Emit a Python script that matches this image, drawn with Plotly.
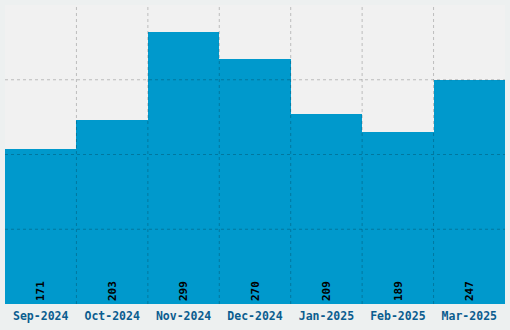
import plotly.graph_objects as go

months = ["Sep-2024", "Oct-2024", "Nov-2024", "Dec-2024", "Jan-2025", "Feb-2025", "Mar-2025"]
counts = [171, 203, 299, 270, 209, 189, 247]

y_max = 329
grid_color = "rgba(0,0,0,0.22)"

fig = go.Figure(go.Bar(
    x=months, y=counts,
    marker=dict(color="#0099cc", line=dict(width=0)),
    text=[str(c) for c in counts],
    textposition="inside", insidetextanchor="start", textangle=-90,
    textfont=dict(family="DejaVu Sans Mono", size=11, color="#000000", weight="bold"),
    hoverinfo="skip",
))

shapes = []
for k in range(1, 4):
    shapes.append(dict(type="line", xref="paper", yref="y", x0=0, x1=1,
                       y0=y_max * k / 4, y1=y_max * k / 4, layer="above",
                       line=dict(color=grid_color, width=1, dash="3px,3px")))
for i in range(1, len(months)):
    shapes.append(dict(type="line", xref="x", yref="paper", x0=i - 0.5, x1=i - 0.5,
                       y0=0, y1=1, layer="above",
                       line=dict(color=grid_color, width=1, dash="3px,3px")))

fig.update_layout(
    width=510, height=330,
    margin=dict(l=5, r=5, t=5, b=26, autoexpand=False),
    paper_bgcolor="#edf0f0", plot_bgcolor="#f1f1f1",
    bargap=0, showlegend=False, shapes=shapes,
    uniformtext=dict(mode=False),
)
fig.update_xaxes(showgrid=False, zeroline=False, showline=False, ticks="", automargin=False,
                 ticklabelstandoff=3,
                 tickfont=dict(family="DejaVu Sans Mono", size=11.5, color="#0b5d8f", weight="bold"),
                 range=[-0.5, len(months) - 0.5])
fig.update_yaxes(range=[0, y_max], showgrid=False, zeroline=False, showticklabels=False,
                 automargin=False)

fig.write_html(
    "out.html",
    config={"displayModeBar": False},
    post_script="document.body.style.margin='0';document.body.style.overflow='hidden';",
)
